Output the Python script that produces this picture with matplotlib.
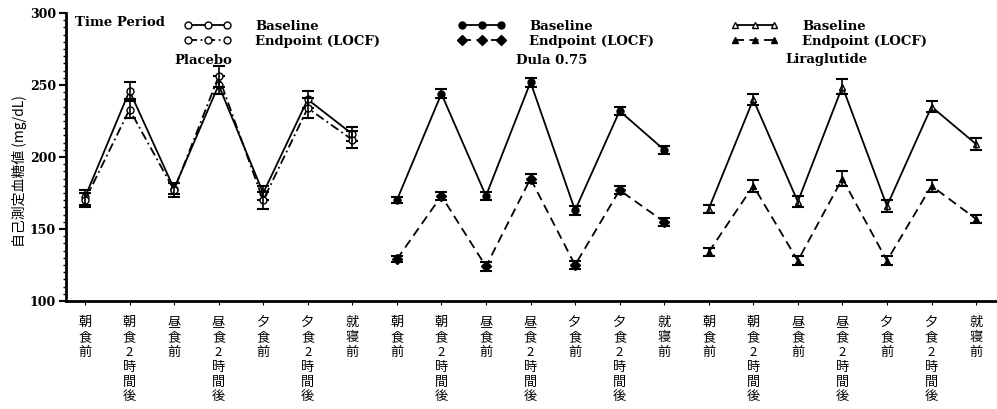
import numpy as np
import matplotlib.pyplot as plt
from matplotlib.ticker import MultipleLocator

plt.rcParams['font.family'] = ['Noto Sans CJK JP', 'DejaVu Sans']

# data
visits = ['朝\n食\n前', '朝\n食\n2\n時\n間\n後', '昼\n食\n前', '昼\n食\n2\n時\n間\n後',
          '夕\n食\n前', '夕\n食\n2\n時\n間\n後', '就\n寝\n前']
groups = ['Placebo', 'Dula 0.75', 'Liraglutide']

placebo_base = [172, 246, 178, 250, 175, 240, 216]
placebo_base_err = [5, 6, 4, 6, 5, 6, 5]
placebo_end = [170, 233, 177, 256, 170, 234, 212]
placebo_end_err = [5, 6, 5, 7, 6, 7, 6]

dula_base = [170, 244, 173, 252, 163, 232, 205]
dula_base_err = [2, 3, 3, 3, 3, 3, 3]
dula_end = [129, 173, 124, 185, 125, 177, 155]
dula_end_err = [2, 3, 3, 3, 3, 3, 3]

lira_base = [164, 240, 169, 249, 166, 235, 209]
lira_base_err = [3, 4, 4, 5, 4, 4, 4]
lira_end = [134, 180, 128, 185, 128, 180, 157]
lira_end_err = [3, 4, 3, 5, 3, 4, 3]

fig = plt.figure(figsize=(9.97, 4.09), dpi=100)
ax = fig.add_axes([0.066, 0.264, 0.934, 0.704])

n = len(visits)
serif = dict(family='DejaVu Serif', weight='bold')

def draw(off, base, berr, end, eerr, bm, em, bfill, efill, els):
    x = np.arange(n) + off
    hb, = ax.plot(x, base, color='black', lw=1.3, ls='-', marker=bm, ms=5,
                  mfc=bfill, mec='black')
    ax.errorbar(x, base, yerr=berr, fmt='none', ecolor='black', elinewidth=1.2,
                capsize=4, capthick=1.5)
    he, = ax.plot(x, end, color='black', lw=1.3, ls=els, marker=em, ms=5,
                  mfc=efill, mec='black')
    ax.errorbar(x, end, yerr=eerr, fmt='none', ecolor='black', elinewidth=1.2,
                capsize=4, capthick=1.5)
    return hb, he

h1 = draw(0, placebo_base, placebo_base_err, placebo_end, placebo_end_err,
          'o', 'o', 'white', 'white', (0, (5, 2, 1, 2)))
h2 = draw(7, dula_base, dula_base_err, dula_end, dula_end_err,
          'o', 'D', 'black', 'black', (0, (5, 3)))
h3 = draw(14, lira_base, lira_base_err, lira_end, lira_end_err,
          '^', '^', 'white', 'black', (0, (5, 3)))

ax.set_xlim(-0.43, 20.47)
ax.set_ylim(100, 300)
ax.set_xticks(np.arange(3 * n))
ax.set_xticklabels(visits * 3, fontsize=9.5, linespacing=1.18)
ax.tick_params(axis='x', length=3, width=0.8, pad=8)
ax.set_yticks([100, 150, 200, 250, 300])
ax.set_yticklabels(['100', '150', '200', '250', '300'], **serif, fontsize=9)
ax.yaxis.set_minor_locator(MultipleLocator(5))
ax.tick_params(axis='y', which='major', length=5, width=1.5, pad=2)
ax.tick_params(axis='y', which='minor', length=2.5, width=1)
for s in ['top', 'right']:
    ax.spines[s].set_visible(False)
for s in ['left', 'bottom']:
    ax.spines[s].set_linewidth(2)
ax.set_ylabel('自己測定血糖値 (mg/dL)', fontsize=10)
ax.yaxis.set_label_coords(-0.042, 0.45)

# legends
fig.text(75 / 997, 1 - 22 / 409, 'Time Period', fontsize=9.5, va='center', **serif)
for hs, xl, xt, name in [(h1, 172, 203, 'Placebo'), (h2, 446, 552, 'Dula 0.75'),
                         (h3, 719, 826, 'Liraglutide')]:
    fig.legend(hs, ['Baseline', 'Endpoint (LOCF)'], loc='upper left',
               bbox_to_anchor=(xl / 997, 1 - 8 / 409), bbox_transform=fig.transFigure,
               frameon=False, numpoints=3, handlelength=3.6, handletextpad=1.8,
               labelspacing=0.15, prop=dict(family='DejaVu Serif', weight='bold', size=9.5))
    fig.text(xt / 997, 1 - 60 / 409, name, fontsize=9.5, ha='center', va='center', **serif)

fig.savefig('out.png', dpi=100)
